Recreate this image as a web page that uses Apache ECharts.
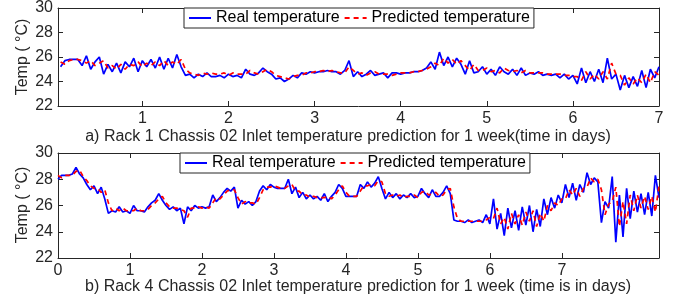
<!DOCTYPE html>
<html>
<head>
<meta charset="utf-8">
<script src="https://cdn.jsdelivr.net/npm/echarts@6/dist/echarts.min.js"></script>
<style>
html,body{margin:0;padding:0;background:#fff;}
#chart{width:678px;height:300px;}
</style>
</head>
<body>
<div id="chart"></div>
<script>
// ---- Data ----
const seriesNames = ['Real temperature', 'Predicted temperature'];
const titleA = 'a) Rack 1 Chassis 02 Inlet temperature prediction for 1 week(time in days)';
const titleB = 'b) Rack 4 Chassis 02 Inlet temperature prediction for 1 week (time is in days)';
const yName = 'Temp ( °C)';
const yTicks = [22, 24, 26, 28, 30];
const xTicksA = [1, 2, 3, 4, 5, 6, 7];
const xTicksB = [0, 1, 2, 3, 4, 5, 6, 7];

// sampling of the readings (days)
const stepDays = 0.05;
const startA = 0.05;   // first reading of plot a
const startB = 0.0;    // first reading of plot b

const realA = [
 25.2,25.7,25.8,25.8,25.8,25.3,26.1,25.0,25.6,26.0,
 24.6,25.4,24.8,25.5,24.7,25.6,25.2,25.9,24.8,25.7,
 25.2,25.8,25.1,26.0,25.0,25.9,25.1,26.2,25.2,24.5,
 24.6,24.3,24.6,24.4,24.7,24.4,24.4,24.5,24.3,24.6,
 24.4,24.5,24.3,25.0,24.6,24.5,24.7,25.1,24.8,24.6,
 24.2,24.3,24.0,24.2,24.5,24.3,24.7,24.6,24.8,24.7,
 24.8,24.8,24.9,24.8,24.8,24.6,24.9,25.7,24.4,24.8,
 24.4,24.6,24.9,24.5,24.6,24.7,24.3,24.7,24.7,24.6,
 24.7,24.7,24.8,24.8,24.9,25.1,25.6,25.0,26.4,25.3,
 26.0,25.2,25.9,25.4,24.6,25.7,24.7,24.8,25.2,24.6,
 25.0,24.5,25.2,24.8,24.6,25.0,24.5,25.1,24.5,24.7,
 24.6,24.8,24.5,24.6,24.5,24.6,24.3,24.6,24.2,24.5,
 23.8,25.1,23.9,24.8,24.0,25.0,23.9,25.9,24.2,24.6,
 23.3,24.5,23.5,24.4,23.6,24.9,23.5,25.0,24.3,25.2
];
const predA = [
 25.6,25.4,25.7,25.8,25.8,25.7,25.5,25.7,25.3,25.5,
 25.7,25.1,25.3,25.0,25.4,25.0,25.4,25.3,25.6,25.2,
 25.5,25.3,25.6,25.3,25.7,25.3,25.6,25.4,25.8,25.0,
 24.7,24.6,24.5,24.7,24.6,24.7,24.6,24.6,24.7,24.5,
 24.7,24.6,24.6,24.6,24.9,24.7,24.6,24.8,25.0,24.8,
 24.5,24.4,24.3,24.2,24.4,24.5,24.5,24.7,24.7,24.8,
 24.8,24.9,24.8,24.9,24.8,24.7,24.7,25.2,24.9,24.6,
 24.7,24.5,24.7,24.8,24.6,24.6,24.6,24.5,24.6,24.7,
 24.7,24.7,24.8,24.8,24.9,25.0,25.2,25.5,25.3,25.9,
 25.5,25.8,25.4,25.7,25.3,24.9,25.4,24.9,24.9,25.1,
 24.8,24.9,24.7,25.1,24.9,24.8,24.9,24.7,24.9,24.7,
 24.7,24.7,24.7,24.6,24.6,24.6,24.6,24.5,24.5,24.4,
 24.4,24.1,24.8,24.2,24.6,24.2,24.8,24.2,25.5,24.6,
 24.5,23.7,24.3,23.8,24.3,23.9,24.6,23.9,24.8,24.5
];
const realB = [
 28.0,28.3,28.3,28.3,28.4,28.9,28.4,28.1,27.6,27.2,
 27.5,26.9,27.4,26.5,25.4,25.6,25.5,25.9,25.5,25.6,
 25.4,26.0,25.6,25.6,25.5,25.9,26.2,26.4,26.9,26.4,
 26.0,25.7,25.9,25.6,25.8,24.6,25.9,25.6,26.0,25.8,
 25.9,25.8,25.9,26.8,26.3,26.6,27.0,27.3,27.1,27.4,
 25.8,26.4,26.1,26.3,26.0,26.3,27.1,27.5,27.2,27.6,
 27.4,27.3,27.3,27.3,28.0,26.9,27.4,26.6,27.0,26.5,
 26.8,26.5,26.7,26.4,26.9,26.3,26.7,27.0,27.6,27.3,
 26.7,26.7,26.7,26.7,27.6,27.3,27.8,27.4,27.7,28.2,
 27.3,26.5,27.0,26.6,26.9,26.5,26.8,26.6,26.9,26.6,
 26.7,27.3,26.9,26.6,27.2,26.7,26.7,27.0,27.5,26.9,
 24.9,24.8,24.8,24.7,24.9,24.7,24.8,24.9,24.7,25.3,
 24.6,26.5,24.2,25.4,23.7,25.8,24.3,25.6,24.1,25.9,
 24.5,26.0,24.0,25.7,24.4,26.5,25.3,26.6,25.8,26.8,
 26.2,27.6,26.6,27.7,26.4,27.6,27.0,28.5,27.6,28.1,
 27.8,24.7,26.3,25.8,28.2,23.2,26.8,23.6,27.3,25.0,
 27.1,25.5,26.9,25.3,27.0,25.2,28.3,26.6
];
const predB = [
 28.3,28.1,28.3,28.3,28.3,28.6,28.7,28.2,27.9,27.5,
 27.3,27.3,27.0,27.2,26.2,25.6,25.8,25.6,25.8,25.6,
 25.6,25.6,25.8,25.6,25.6,25.7,26.0,26.2,26.5,26.7,
 26.2,25.9,25.8,25.8,25.7,25.6,25.1,25.8,25.8,25.9,
 25.8,25.9,25.8,26.2,26.6,26.5,26.8,27.1,27.2,27.2,
 26.6,26.1,26.3,26.2,26.2,26.1,26.6,27.2,27.4,27.4,
 27.5,27.4,27.3,27.3,27.5,27.6,27.1,27.1,26.8,26.8,
 26.6,26.7,26.6,26.6,26.6,26.7,26.5,26.8,27.2,27.5,
 27.0,26.7,26.7,26.7,27.1,27.5,27.5,27.6,27.5,27.9,
 27.8,26.9,26.7,26.8,26.7,26.8,26.6,26.7,26.7,26.8,
 26.6,27.0,27.1,26.8,26.9,27.0,26.7,26.8,27.2,27.3,
 25.9,25.0,24.8,24.8,24.8,24.8,24.8,24.8,24.8,24.9,
 25.1,25.0,25.8,24.6,25.1,24.2,25.4,24.6,25.3,24.5,
 25.5,24.8,25.6,24.4,25.4,24.8,26.0,25.6,26.2,26.0,
 26.5,26.5,27.2,26.8,27.3,26.7,27.3,27.4,28.1,27.8,
 28.0,27.2,25.3,26.1,26.3,27.4,24.4,26.3,24.6,26.8,
 25.6,26.8,25.8,26.7,25.7,26.7,25.5,27.5
];

// ---- Chart ----
const FONT = "'Liberation Sans', Arial, Helvetica, sans-serif";
const AX = '#262626';
const pairs = (arr, start) => arr.map((v, i) => [+(start + i * stepDays).toFixed(3), v]);

function xAxes(grid, min, max, ticks) {
  const base = {
    gridIndex: grid, type: 'value', min: min, max: max,
    axisLine: { show: true, onZero: false, lineStyle: { color: AX, width: 1 } },
    axisTick: { show: true, inside: true, length: 5, customValues: ticks, lineStyle: { color: AX } },
    splitLine: { show: false }
  };
  return [
    Object.assign({}, base, {
      position: 'bottom',
      axisLabel: { show: true, customValues: ticks, margin: 5, fontSize: 16, fontFamily: FONT, color: AX }
    }),
    Object.assign({}, base, { position: 'top', axisLabel: { show: false } })
  ];
}
function yAxes(grid) {
  const base = {
    gridIndex: grid, type: 'value', min: yTicks[0], max: yTicks[yTicks.length - 1], interval: 2,
    axisLine: { show: true, onZero: false, lineStyle: { color: AX, width: 1 } },
    axisTick: { show: true, inside: true, length: 5, lineStyle: { color: AX } },
    splitLine: { show: false }
  };
  return [
    Object.assign({}, base, {
      position: 'left',
      axisLabel: { show: true, margin: 5, fontSize: 16, fontFamily: FONT, color: AX }
    }),
    Object.assign({}, base, { position: 'right', axisLabel: { show: false } })
  ];
}

function lineSeries(name, data, xi, yi, isPred) {
  return {
    name: name, type: 'line', xAxisIndex: xi, yAxisIndex: yi, data: data,
    symbol: 'none', showSymbol: false, animation: false, z: isPred ? 3 : 2,
    lineStyle: isPred ? { color: '#ff0000', width: 1.7, type: [5, 4] } : { color: '#0000ff', width: 1.7 },
    itemStyle: { color: isPred ? '#ff0000' : '#0000ff' }
  };
}

const legendBase = {
  orient: 'horizontal', data: seriesNames, itemWidth: 22, itemHeight: 14, itemGap: 4,
  padding: [1, 4, 1, 4], borderColor: AX, borderWidth: 1, backgroundColor: '#ffffff',
  itemStyle: { opacity: 0 },
  textStyle: { fontSize: 16, fontFamily: FONT, color: '#000', lineHeight: 18 },
  selectedMode: false
};

function textEl(str, x, y, rot) {
  return { type: 'text', x: x, y: y, rotation: rot || 0,
    style: { text: str, font: '16px ' + FONT, fill: AX, align: 'center', verticalAlign: 'middle' } };
}

const chart = echarts.init(document.getElementById('chart'), null, { renderer: 'canvas' });
chart.setOption({
  animation: false,
  backgroundColor: '#ffffff',
  grid: [
    { left: 58, right: 19, top: 8, height: 98 },
    { left: 58, right: 19, top: 153, height: 105 }
  ],
  xAxis: [].concat(xAxes(0, 0.02, 7, xTicksA), xAxes(1, 0, 8.35, xTicksB)),
  yAxis: [].concat(yAxes(0), yAxes(1)),
  legend: [
    Object.assign({}, legendBase, { left: 184, top: 8 }),
    Object.assign({}, legendBase, { left: 180, top: 153 })
  ],
  graphic: [
    textEl(titleA, 348, 137),
    textEl(titleB, 358, 287),
    textEl(yName, 23, 57, Math.PI / 2),
    textEl(yName, 23, 205, Math.PI / 2)
  ],
  series: [
    lineSeries(seriesNames[0], pairs(realA, startA), 0, 0, false),
    lineSeries(seriesNames[1], pairs(predA, startA), 0, 0, true),
    lineSeries(seriesNames[0], pairs(realB, startB), 2, 2, false),
    lineSeries(seriesNames[1], pairs(predB, startB), 2, 2, true)
  ]
});
</script>
</body>
</html>
